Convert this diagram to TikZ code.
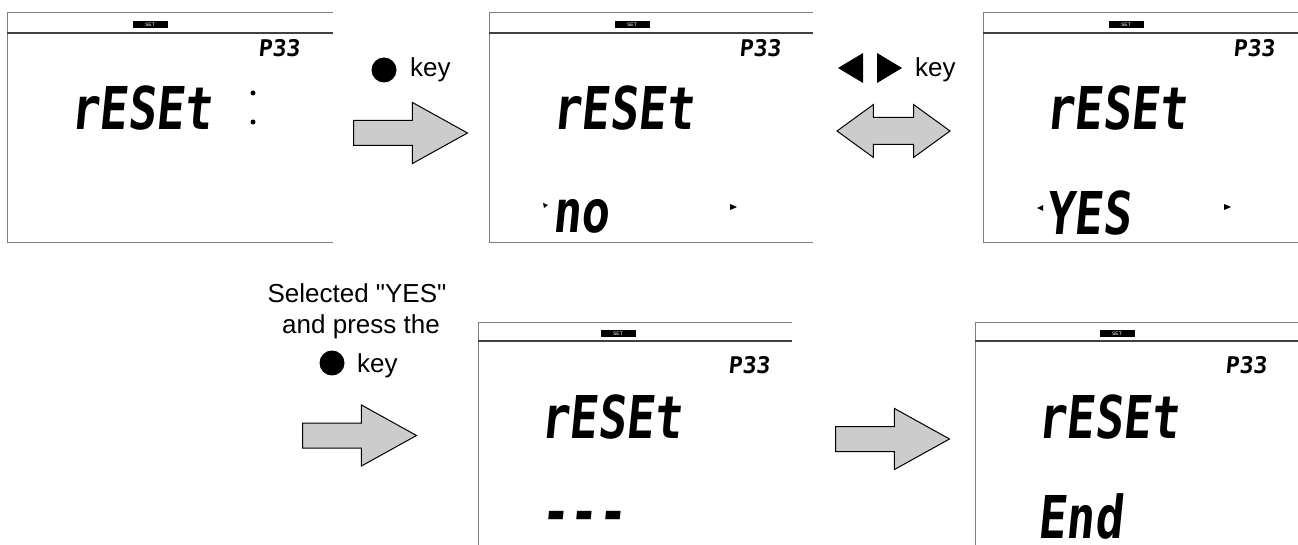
\documentclass[tikz,border=0pt]{standalone}
\usepackage{fontspec}
\setmainfont{Liberation Sans}[Ligatures=TeXOff]
\newfontfamily\segfont[FakeSlant=0.1]{DejaVu Sans Mono}
\newfontfamily\segnarrow[FakeSlant=0.1,FakeStretch=0.8]{DejaVu Sans Mono}
\usetikzlibrary{shapes.arrows}

\tikzset{
  lcdframe/.style={draw=black!50, line width=1pt},
  lcdbar/.style={draw=black!75, line width=2pt},
  setflag/.style={fill=black, text=white, inner sep=0pt, minimum width=35pt, minimum height=7pt, font=\fontsize{5}{5}\selectfont},
  pnum/.style={anchor=base west, inner sep=0pt, font=\segfont\bfseries\fontsize{23}{23}\selectfont},
  lcdtext/.style={anchor=base west, inner sep=0pt, font=\segnarrow\bfseries\fontsize{59}{59}\selectfont},
  bigarrow/.style={single arrow, draw=black, line width=1pt, fill=gray!40, inner xsep=0pt, inner ysep=12pt, minimum height=114pt, single arrow head extend=18pt, single arrow tip angle=58, anchor=tail},
  keydot/.style={circle, fill=black, inner sep=0pt, minimum size=25pt},
  keytext/.style={inner sep=0pt, font=\fontsize{26}{31}\selectfont}
}

\begin{document}
\begin{tikzpicture}[x=1pt,y=-1pt]
    \useasboundingbox (0,0) rectangle (1298,545);

    % first display
    \begin{scope}[shift={(7,13)}]
        \draw[lcdframe] (326,0) -- (0,0) -- (0,230) -- (326,230);
        \draw[lcdbar] (0,20) -- (326,20);
        \node[setflag] (set1) at (143,11.5) {SET};
        \node[pnum] (num1) at (251,44) {P33};
        \node[lcdtext] (txt1) at (63,117) {rESEt};
        \fill (246,80) circle (2.5);
        \fill (246,109) circle (2.5);
    \end{scope}

    % second display
    \begin{scope}[shift={(489,13)}]
        \draw[lcdframe] (324,0) -- (0,0) -- (0,230) -- (324,230);
        \draw[lcdbar] (0,20) -- (324,20);
        \node[setflag] (set2) at (143,11.5) {SET};
        \node[pnum] (num2) at (250,44) {P33};
        \node[lcdtext] (txt2) at (63,117) {rESEt};
        \node[lcdtext] (sel2) at (63,220) {no};
        \fill (54,190) -- (59,192) -- (55,195) -- cycle;
        \fill (241,191) -- (248,194) -- (241,197) -- cycle;
    \end{scope}

    % third display
    \begin{scope}[shift={(983,13)}]
        \draw[lcdframe] (315,0) -- (0,0) -- (0,230) -- (315,230);
        \draw[lcdbar] (0,20) -- (315,20);
        \node[setflag] (set3) at (143,11.5) {SET};
        \node[pnum] (num3) at (250,44) {P33};
        \node[lcdtext] (txt3) at (62,117) {rESEt};
        \node[lcdtext] (sel3) at (62,222) {YES};
        \fill (54,195) -- (60,192) -- (60,198) -- cycle;
        \fill (241,191) -- (248,194) -- (241,197) -- cycle;
    \end{scope}

    % fourth display
    \begin{scope}[shift={(478,322)}]
        \draw[lcdframe] (314,0) -- (0,0) -- (0,223);
        \draw[lcdbar] (0,19) -- (314,19);
        \node[setflag] (set4) at (140,11.5) {SET};
        \node[pnum] (num4) at (250,51) {P33};
        \node[lcdtext] (txt4) at (62,116) {rESEt};
        \node[lcdtext] (sel4) at (62,210) {---};
    \end{scope}

    % fifth display
    \begin{scope}[shift={(975,322)}]
        \draw[lcdframe] (323,0) -- (0,0) -- (0,223);
        \draw[lcdbar] (0,19) -- (323,19);
        \node[setflag] (set5) at (142,11.5) {SET};
        \node[pnum] (num5) at (250,51) {P33};
        \node[lcdtext] (txt5) at (62,116) {rESEt};
        \node[lcdtext] (sel5) at (62,216) {End};
    \end{scope}

    % enter key arrow
    \node[keydot] (dot1) at (384,70) {};
    \node[keytext, anchor=base west] (key1) at (410,77) {key};
    \node[bigarrow] (arr1) at (353,133) {};

    % left/right keys
    \fill (838,68) -- (863,53) -- (863,83) -- cycle;
    \fill (902,68) -- (877,53) -- (877,83) -- cycle;
    \node[keytext, anchor=base west] (key2) at (915,77) {key};
    \node[double arrow, draw=black, line width=1pt, fill=gray!40, inner xsep=0pt, inner ysep=13pt,
          minimum height=113pt, double arrow head extend=13pt,
          double arrow tip angle=72] (arr2) at (893.5,131) {};

    % confirm reset
    \node[keytext, anchor=base] (sel) at (357,302) {Selected "YES"};
    \node[keytext, anchor=base] (press) at (361,333) {and press the};
    \node[keydot] (dot3) at (332,363) {};
    \node[keytext, anchor=base west] (key3) at (357,372) {key};
    \node[bigarrow] (arr3) at (302,435.5) {};

    \node[bigarrow] (arr4) at (835,439) {};
\end{tikzpicture}
\end{document}
